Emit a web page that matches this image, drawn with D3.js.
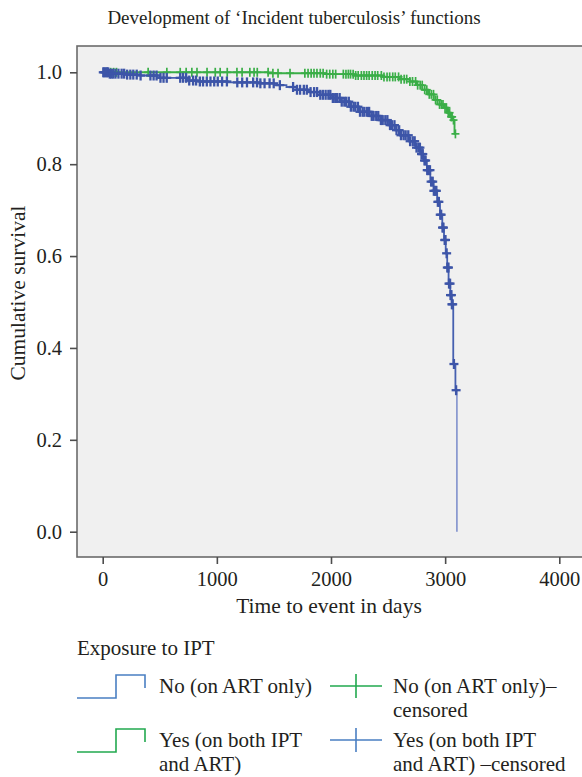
<!DOCTYPE html>
<html>
<head>
<meta charset="utf-8">
<script src="https://cdn.jsdelivr.net/npm/d3@7"></script>
<style>
	body { margin: 0; background: #fff; }
	svg { display: block; }
</style>
</head>
<body>
<div id="chart"></div>
<script>
// DATA
// step points of the Kaplan-Meier curves: time (days) and cumulative survival
const blueTimes = [0, 60, 200, 330, 500, 740, 850, 1100, 1380, 1500, 1610, 1700, 1800, 1900, 2000, 2080, 2170, 2250, 2340, 2430, 2500, 2560, 2610, 2680, 2740, 2780, 2810, 2840, 2870, 2900, 2930, 2955, 2975, 2990, 3005, 3018, 3030, 3045, 3058, 3071, 3090, 3103];
const blueSurv = [1.0, 0.997, 0.995, 0.993, 0.988, 0.982, 0.98, 0.978, 0.976, 0.972, 0.968, 0.962, 0.957, 0.951, 0.944, 0.936, 0.925, 0.914, 0.905, 0.896, 0.885, 0.874, 0.863, 0.85, 0.836, 0.822, 0.808, 0.787, 0.762, 0.742, 0.718, 0.69, 0.662, 0.635, 0.606, 0.575, 0.54, 0.515, 0.495, 0.365, 0.308, 0.0];

const greenTimes = [0, 1450, 1950, 2200, 2450, 2600, 2690, 2750, 2800, 2850, 2900, 2950, 2990, 3020, 3045, 3065, 3082];
const greenSurv = [1.0, 0.998, 0.996, 0.993, 0.99, 0.985, 0.98, 0.972, 0.962, 0.952, 0.94, 0.93, 0.923, 0.912, 0.903, 0.896, 0.866];
const greenEnd = 3092;

// censored observations (days)
const blueCensor = [5, 14, 26, 37, 48, 62, 76, 92, 112, 138, 166, 188, 214, 242, 268, 298, 332, 418, 446, 472, 506, 533, 561, 679, 704, 731, 758, 792, 818, 851, 879, 912, 944, 977, 1008, 1046, 1088, 1179, 1222, 1264, 1318, 1352, 1381, 1418, 1462, 1498, 1552, 1668, 1702, 1729, 1762, 1788, 1821, 1852, 1878, 1906, 1929, 1953, 1977, 1994, 2016, 2037, 2053, 2076, 2094, 2117, 2133, 2156, 2174, 2197, 2213, 2236, 2254, 2277, 2293, 2316, 2334, 2357, 2373, 2396, 2414, 2437, 2453, 2476, 2494, 2517, 2533, 2556, 2574, 2597, 2613, 2636, 2654, 2677, 2693, 2716, 2733, 2749, 2766, 2779, 2793, 2804, 2819, 2829, 2843, 2854, 2867, 2877, 2891, 2901, 2913, 2923, 2936, 2945, 2957, 2965, 2977, 2985, 2996, 3003, 3013, 3019, 3029, 3034, 3043, 3047, 3055, 3059, 3066, 3077, 3096];
const greenCensor = [70, 96, 121, 398, 562, 679, 731, 781, 826, 914, 986, 1029, 1091, 1176, 1221, 1289, 1326, 1354, 1449, 1491, 1536, 1641, 1771, 1799, 1826, 1851, 1877, 1906, 1931, 1962, 1989, 2016, 2041, 2108, 2131, 2152, 2171, 2194, 2216, 2238, 2266, 2289, 2312, 2334, 2361, 2386, 2409, 2441, 2464, 2491, 2514, 2541, 2563, 2592, 2614, 2641, 2663, 2691, 2714, 2741, 2759, 2781, 2799, 2821, 2839, 2861, 2879, 2898, 2916, 2931, 2951, 2967, 2981, 2999, 3011, 3027, 3039, 3053, 3061, 3073, 3090];

const xTicks = [0, 1000, 2000, 3000, 4000];
const yTicks = [0.0, 0.2, 0.4, 0.6, 0.8, 1.0];

const legendItems = [
	{ label: ["No (on ART only)"], color: "#4a7fc2", censLabel: ["No (on ART only)–", "censored"], censColor: "#22a94f" },
	{ label: ["Yes (on both IPT", "and ART)"], color: "#22a94f", censLabel: ["Yes (on both IPT", "and ART) –censored"], censColor: "#4a7fc2" },
];

//DIMENSIONS
const width = 582,
	height = 777;
const font = "'Liberation Serif', 'Times New Roman', serif";
const textColor = "#231f20";

const svg = d3
	.select("#chart")
	.append("svg")
	.attr("width", width)
	.attr("height", height);

//SCALES
const x = d3.scaleLinear().domain([0, 4000]).range([102.7, 559.3]);
const y = d3.scaleLinear().domain([0, 1]).range([531.7, 72.3]);

const plot = { left: 77, top: 46, right: 600, bottom: 557 };

//TITLE
svg
	.append("text")
	.attr("x", 294)
	.attr("y", 24)
	.attr("text-anchor", "middle")
	.style("font-family", font)
	.style("font-size", "19px")
	.style("fill", textColor)
	.text("Development of ‘Incident tuberculosis’ functions");

//PLOT BACKGROUND
svg
	.append("rect")
	.attr("x", plot.left)
	.attr("y", plot.top)
	.attr("width", plot.right - plot.left)
	.attr("height", plot.bottom - plot.top)
	.attr("fill", "#f0f0f0")
	.attr("stroke", "#6b6b6b")
	.attr("stroke-width", 1.6);

//AXES
const xAxis = svg
	.append("g")
	.attr("transform", `translate(0, ${plot.bottom})`)
	.call(d3.axisBottom(x).tickValues(xTicks).tickSize(7).tickPadding(8).tickFormat(d3.format("d")));

const yAxis = svg
	.append("g")
	.attr("transform", `translate(${plot.left}, 0)`)
	.call(d3.axisLeft(y).tickValues(yTicks).tickSize(7).tickPadding(8).tickFormat(d3.format(".1f")));

[xAxis, yAxis].forEach(ax => {
	ax.select(".domain").remove();
	ax.selectAll(".tick line").attr("stroke", "#4d4d4d").attr("stroke-width", 1.6);
	ax.selectAll(".tick text")
		.style("font-family", font)
		.style("font-size", "20.5px")
		.style("fill", textColor);
});
xAxis.selectAll(".tick text").attr("dy", "0.68em");
yAxis.selectAll(".tick text").attr("dy", "0.32em");

//AXIS TITLES
svg
	.append("text")
	.attr("x", 329)
	.attr("y", 613)
	.attr("text-anchor", "middle")
	.style("font-family", font)
	.style("font-size", "21.5px")
	.style("fill", textColor)
	.text("Time to event in days");

svg
	.append("text")
	.attr("transform", "translate(25, 293) rotate(-90)")
	.attr("text-anchor", "middle")
	.style("font-family", font)
	.style("font-size", "21.5px")
	.style("fill", textColor)
	.text("Cumulative survival");

//CURVES
const blueData = blueTimes.map((t, i) => ({ t, s: blueSurv[i] }));
const greenData = greenTimes.map((t, i) => ({ t, s: greenSurv[i] }));
greenData.push({ t: greenEnd, s: greenSurv[greenSurv.length - 1] });

// last drop of the blue curve is drawn lighter, as in the source
const lastBlue = blueData[blueData.length - 1];
const blueMain = blueData.slice(0, -1).concat([{ t: lastBlue.t, s: blueSurv[blueSurv.length - 2] }]);
const blueDrop = [blueMain[blueMain.length - 1], lastBlue];

const line = d3
	.line()
	.x(d => x(d.t))
	.y(d => y(d.s))
	.curve(d3.curveStepAfter);

svg
	.append("path")
	.datum(blueDrop)
	.attr("d", line)
	.attr("fill", "none")
	.attr("stroke", "#7f90cc")
	.attr("stroke-width", 1.6);

svg
	.append("path")
	.datum(blueMain)
	.attr("d", line)
	.attr("fill", "none")
	.attr("stroke", "#4660b0")
	.attr("stroke-width", 1.8);

svg
	.append("path")
	.datum(greenData)
	.attr("d", line)
	.attr("fill", "none")
	.attr("stroke", "#3aae47")
	.attr("stroke-width", 1.9);

//CENSOR MARKS
const bisect = d3.bisector(d => d).right;
function survAt(times, surv, t) {
	return surv[Math.max(0, bisect(times, t) - 1)];
}

function drawMarks(times, surv, censor, color, w, hw, hh) {
	const g = svg.append("g").attr("stroke", color).attr("stroke-width", w);
	censor.forEach(t => {
		const cx = x(t),
			cy = y(survAt(times, surv, t));
		g.append("line").attr("x1", cx - hw).attr("x2", cx + hw).attr("y1", cy).attr("y2", cy);
		g.append("line").attr("x1", cx).attr("x2", cx).attr("y1", cy - hh).attr("y2", cy + hh);
	});
}

drawMarks(greenTimes, greenSurv, greenCensor, "#3aae47", 1.7, 4, 4.5);
drawMarks(blueTimes, blueSurv, blueCensor, "#3d55a8", 2.3, 4.5, 5);

//LEGEND
const legend = svg.append("g").style("font-family", font).style("font-size", "21px").style("fill", textColor);

legend.append("text").attr("x", 77).attr("y", 655).text("Exposure to IPT");

legendItems.forEach((d, i) => {
	const base = 693 + i * 54;
	const top = base - 18,
		bottom = base + 5;

	legend
		.append("path")
		.attr("d", `M77,${bottom}H116V${top}H145V${top + 13}`)
		.attr("fill", "none")
		.attr("stroke", d.color)
		.attr("stroke-width", 1.6);

	const t1 = legend.append("text").attr("x", 159).attr("y", base);
	d.label.forEach((s, j) => t1.append("tspan").attr("x", 159).attr("dy", j ? 24 : 0).text(s));

	const my = base - 7;
	legend
		.append("path")
		.attr("d", `M330,${my}H382M356,${my - 12}V${my + 12}`)
		.attr("fill", "none")
		.attr("stroke", d.censColor)
		.attr("stroke-width", 1.6);

	const t2 = legend.append("text").attr("x", 393).attr("y", base);
	d.censLabel.forEach((s, j) => t2.append("tspan").attr("x", 393).attr("dy", j ? 24 : 0).text(s));
});
</script>
</body>
</html>
